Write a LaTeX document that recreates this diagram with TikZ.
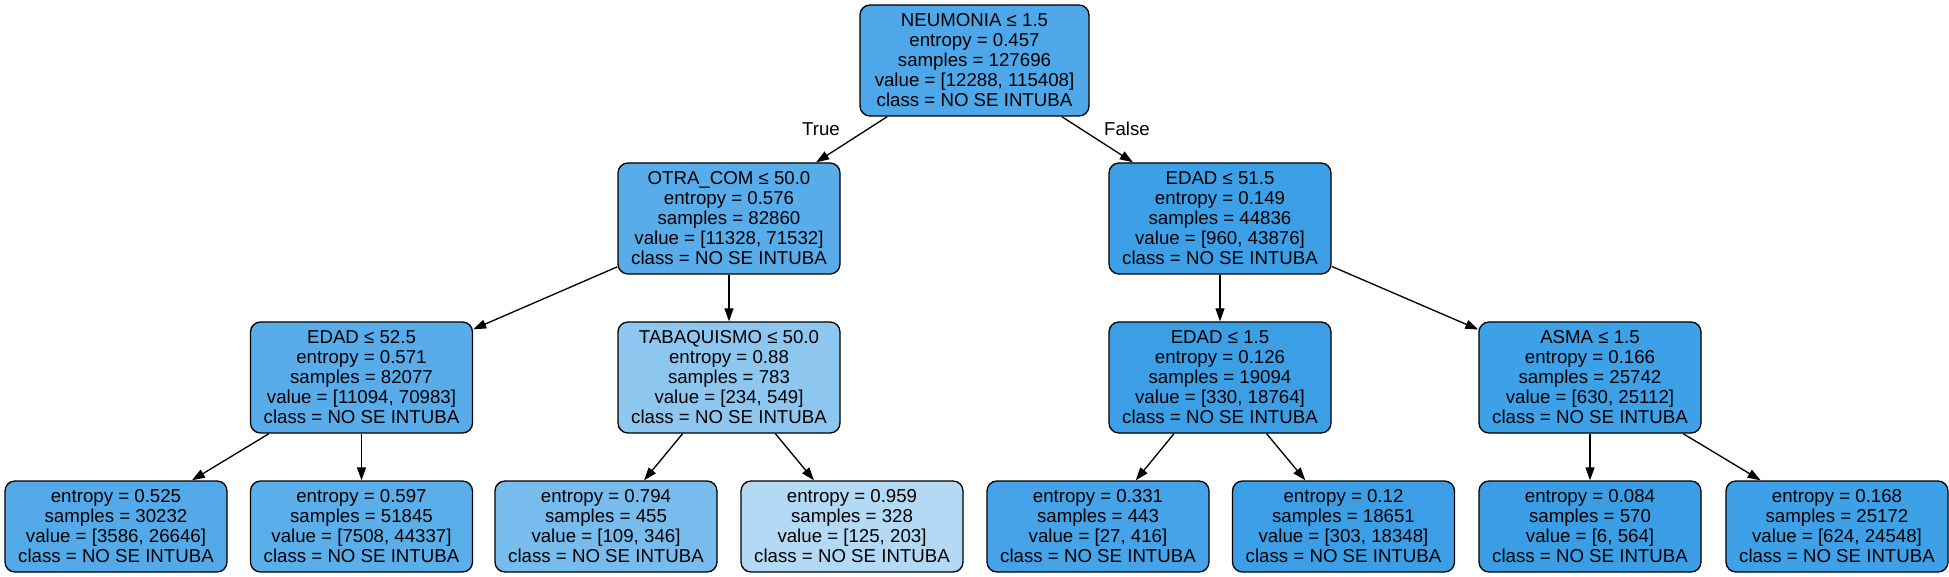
\documentclass[tikz,border=0pt]{standalone}
\usepackage{fontspec}
\setmainfont{Liberation Sans}
\usetikzlibrary{arrows.meta}
\definecolor{cRoot}{RGB}{78,167,232}
\definecolor{cOtra}{RGB}{88,172,233}
\definecolor{cEdadA}{RGB}{61,159,230}
\definecolor{cEdadB}{RGB}{88,172,233}
\definecolor{cTaba}{RGB}{141,199,240}
\definecolor{cEdadC}{RGB}{60,159,230}
\definecolor{cAsma}{RGB}{62,160,230}
\definecolor{cLa}{RGB}{84,170,232}
\definecolor{cLb}{RGB}{90,174,233}
\definecolor{cLc}{RGB}{119,188,237}
\definecolor{cLd}{RGB}{179,217,245}
\definecolor{cLe}{RGB}{70,163,231}
\definecolor{cLf}{RGB}{60,159,229}
\definecolor{cLg}{RGB}{59,158,229}
\definecolor{cLh}{RGB}{62,160,230}
\tikzset{
  tbox/.style={draw=black, line width=1.33pt, rounded corners=10pt, inner sep=0pt,
    align=center, minimum width=222pt, font=\fontsize{18.67pt}{20pt}\selectfont},
  inner/.style={tbox, minimum height=111pt},
  leaf/.style={tbox, minimum height=91pt},
  elabel/.style={inner sep=0pt, font=\fontsize{18.67pt}{20pt}\selectfont},
  conn/.style={line width=1.33pt, -{Triangle[length=13pt,width=9pt]}}
}
\begin{document}
\begin{tikzpicture}[x=1pt,y=-1pt]
\useasboundingbox[fill=white] (0,0) rectangle (1949,577);
\node[inner, fill=cRoot, minimum width=229pt] (root) at (974.5,60.5)
  {NEUMONIA ≤ 1.5\\entropy = 0.457\\samples = 127696\\value = [12288, 115408]\\class = NO SE INTUBA};
\node[inner, fill=cOtra] (otra) at (729,218.5)
  {OTRA\_COM ≤ 50.0\\entropy = 0.576\\samples = 82860\\value = [11328, 71532]\\class = NO SE INTUBA};
\node[inner, fill=cEdadA] (edadA) at (1220,218.5)
  {EDAD ≤ 51.5\\entropy = 0.149\\samples = 44836\\value = [960, 43876]\\class = NO SE INTUBA};
\node[inner, fill=cEdadB] (edadB) at (361.5,377.5)
  {EDAD ≤ 52.5\\entropy = 0.571\\samples = 82077\\value = [11094, 70983]\\class = NO SE INTUBA};
\node[inner, fill=cTaba] (taba) at (729,377.5)
  {TABAQUISMO ≤ 50.0\\entropy = 0.88\\samples = 783\\value = [234, 549]\\class = NO SE INTUBA};
\node[inner, fill=cEdadC] (edadC) at (1220,377.5)
  {EDAD ≤ 1.5\\entropy = 0.126\\samples = 19094\\value = [330, 18764]\\class = NO SE INTUBA};
\node[inner, fill=cAsma] (asma) at (1590,377.5)
  {ASMA ≤ 1.5\\entropy = 0.166\\samples = 25742\\value = [630, 25112]\\class = NO SE INTUBA};
\node[leaf, fill=cLa] (la) at (116,526.5)
  {entropy = 0.525\\samples = 30232\\value = [3586, 26646]\\class = NO SE INTUBA};
\node[leaf, fill=cLb] (lb) at (361.5,526.5)
  {entropy = 0.597\\samples = 51845\\value = [7508, 44337]\\class = NO SE INTUBA};
\node[leaf, fill=cLc] (lc) at (606,526.5)
  {entropy = 0.794\\samples = 455\\value = [109, 346]\\class = NO SE INTUBA};
\node[leaf, fill=cLd] (ld) at (852,526.5)
  {entropy = 0.959\\samples = 328\\value = [125, 203]\\class = NO SE INTUBA};
\node[leaf, fill=cLe] (le) at (1098,526.5)
  {entropy = 0.331\\samples = 443\\value = [27, 416]\\class = NO SE INTUBA};
\node[leaf, fill=cLf] (lf) at (1343.5,526.5)
  {entropy = 0.12\\samples = 18651\\value = [303, 18348]\\class = NO SE INTUBA};
\node[leaf, fill=cLg] (lg) at (1590,526.5)
  {entropy = 0.084\\samples = 570\\value = [6, 564]\\class = NO SE INTUBA};
\node[leaf, fill=cLh] (lh) at (1837,526.5)
  {entropy = 0.168\\samples = 25172\\value = [624, 24548]\\class = NO SE INTUBA};
\node[elabel] (ltrue) at (821,129) {True};
\node[elabel] (lfalse) at (1127,129) {False};
\draw[conn] (root) -- (otra);
\draw[conn] (root) -- (edadA);
\draw[conn] (otra) -- (edadB);
\draw[conn] (otra) -- (taba);
\draw[conn] (edadA) -- (edadC);
\draw[conn] (edadA) -- (asma);
\draw[conn] (edadB) -- (la);
\draw[conn] (edadB) -- (lb);
\draw[conn] (taba) -- (lc);
\draw[conn] (taba) -- (ld);
\draw[conn] (edadC) -- (le);
\draw[conn] (edadC) -- (lf);
\draw[conn] (asma) -- (lg);
\draw[conn] (asma) -- (lh);
\end{tikzpicture}
\end{document}
